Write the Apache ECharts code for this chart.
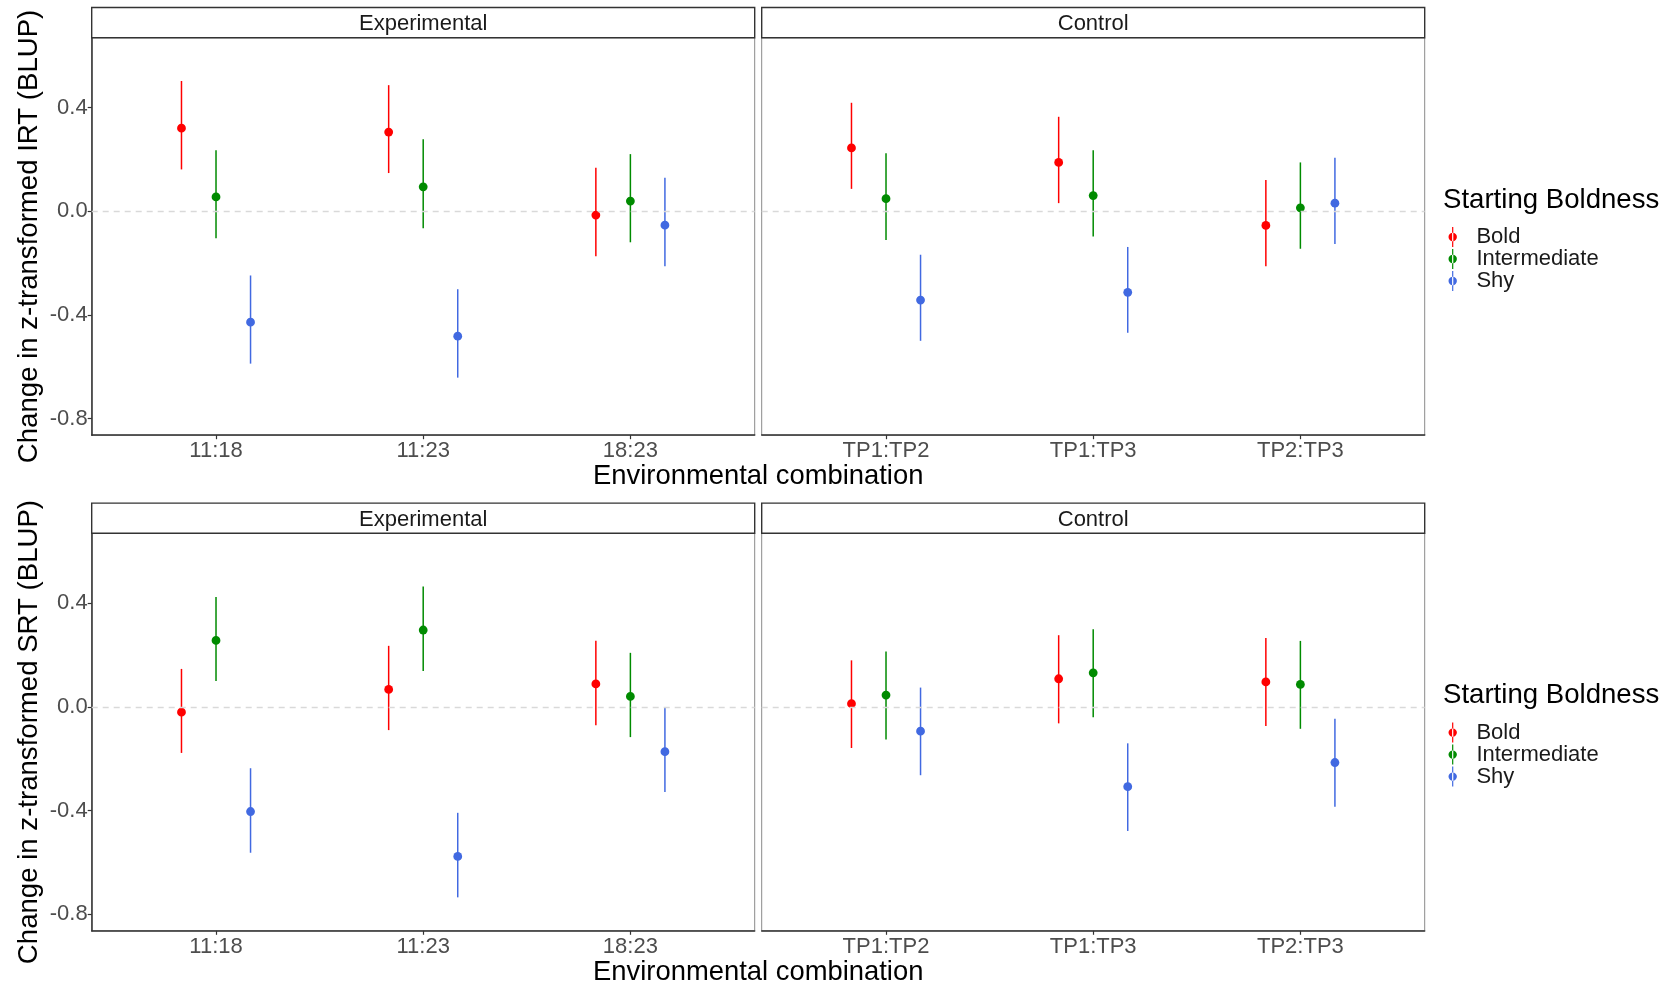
<!DOCTYPE html>
<html>
<head>
<meta charset="utf-8">
<script src="https://cdn.jsdelivr.net/npm/echarts@6/dist/echarts.min.js"></script>
<style>
html,body{margin:0;padding:0;background:#fff;}
#chart{width:1670px;height:986px;}
</style>
</head>
<body>
<div id="chart"></div>
<script>
// ---------------- DATA ----------------
const groups = ['Bold', 'Intermediate', 'Shy'];
const expCats = ['11:18', '11:23', '18:23'];
const ctrlCats = ['TP1:TP2', 'TP1:TP3', 'TP2:TP3'];
const panelNames = ['Experimental', 'Control'];
const yTicks = [-0.8, -0.4, 0.0, 0.4];
const rowTitles = ['Change in z-transformed IRT (BLUP)', 'Change in z-transformed SRT (BLUP)'];

// rows = groups (Bold, Intermediate, Shy), columns = categories
const irtExpEst = [[0.320, 0.305, -0.015], [0.055, 0.094, 0.039], [-0.428, -0.482, -0.054]];
const irtExpLo  = [[0.161, 0.147, -0.174], [-0.104, -0.066, -0.120], [-0.588, -0.642, -0.212]];
const irtExpHi  = [[0.502, 0.486, 0.167], [0.235, 0.277, 0.220], [-0.248, -0.301, 0.129]];

const irtCtlEst = [[0.244, 0.188, -0.055], [0.048, 0.060, 0.013], [-0.343, -0.313, 0.031]];
const irtCtlLo  = [[0.086, 0.031, -0.212], [-0.111, -0.098, -0.145], [-0.500, -0.469, -0.127]];
const irtCtlHi  = [[0.418, 0.364, 0.120], [0.223, 0.235, 0.188], [-0.168, -0.138, 0.206]];

const srtExpEst = [[-0.021, 0.067, 0.088], [0.256, 0.296, 0.040], [-0.404, -0.577, -0.173]];
const srtExpLo  = [[-0.178, -0.090, -0.071], [0.099, 0.138, -0.117], [-0.563, -0.735, -0.329]];
const srtExpHi  = [[0.146, 0.235, 0.255], [0.423, 0.464, 0.208], [-0.237, -0.409, -0.005]];

const srtCtlEst = [[0.012, 0.108, 0.096], [0.045, 0.131, 0.086], [-0.094, -0.308, -0.215]];
const srtCtlLo  = [[-0.159, -0.064, -0.074], [-0.126, -0.040, -0.085], [-0.264, -0.479, -0.386]];
const srtCtlHi  = [[0.179, 0.276, 0.265], [0.213, 0.299, 0.254], [0.074, -0.141, -0.046]];

// ---------------- STYLE / LAYOUT ----------------
const colors = ['#FF0000', '#008B00', '#4169E1'];
const FONT = 'Liberation Sans, Arial, sans-serif';
const dodge = [-1/6, 0, 1/6];
const panelLeft = [91.7, 761.7];
const panelW = 663;
const rowTop = [37.7, 533.3];
const panelH = 397.5;
const stripH = 30.2;
const yMin = -0.864, yMax = 0.669;
const rowOffset = rowTop[1] - rowTop[0];

const panels = [
  {row: 0, col: 0, cats: expCats, est: irtExpEst, lo: irtExpLo, hi: irtExpHi},
  {row: 0, col: 1, cats: ctrlCats, est: irtCtlEst, lo: irtCtlLo, hi: irtCtlHi},
  {row: 1, col: 0, cats: expCats, est: srtExpEst, lo: srtExpLo, hi: srtExpHi},
  {row: 1, col: 1, cats: ctrlCats, est: srtCtlEst, lo: srtCtlLo, hi: srtCtlHi}
];

function renderItem(params, api) {
  const x = api.value(0), y = api.value(1), lo = api.value(2), hi = api.value(3);
  const p = api.coord([x, y]);
  const a = api.coord([x, lo]);
  const b = api.coord([x, hi]);
  const c = api.visual('color');
  return {
    type: 'group',
    children: [
      {type: 'line', shape: {x1: a[0], y1: a[1], x2: b[0], y2: b[1]}, style: {stroke: c, lineWidth: 1.5}},
      {type: 'circle', shape: {cx: p[0], cy: p[1], r: 4.4}, style: {fill: c}}
    ]
  };
}

const grids = [], xAxes = [], yAxes = [], series = [], graphics = [];

panels.forEach((pn, i) => {
  grids.push({
    left: panelLeft[pn.col], top: rowTop[pn.row], width: panelW, height: panelH,
    show: true, borderColor: '#8a8a8a', borderWidth: 1, backgroundColor: '#fff',
    containLabel: false
  });
  const cats = pn.cats;
  xAxes.push({
    type: 'value', gridIndex: i, min: 0.4, max: 3.6,
    axisLine: {show: true, onZero: false, lineStyle: {color: '#333', width: 1.5}},
    axisTick: {show: true, customValues: [1, 2, 3], length: 4, lineStyle: {color: '#333', width: 1.2}},
    axisLabel: {
      show: true, customValues: [1, 2, 3], margin: 5,
      formatter: v => cats[Math.round(v) - 1],
      fontFamily: FONT, fontSize: 22, color: '#4d4d4d'
    },
    splitLine: {show: false}
  });
  const leftCol = pn.col === 0;
  yAxes.push({
    type: 'value', gridIndex: i, min: yMin, max: yMax,
    axisLine: {show: leftCol, onZero: false, lineStyle: {color: '#333', width: 1.5}},
    axisTick: {show: leftCol, customValues: yTicks, length: 4, lineStyle: {color: '#333', width: 1.2}},
    axisLabel: {
      show: leftCol, customValues: yTicks, margin: 4,
      formatter: v => v.toFixed(1),
      fontFamily: FONT, fontSize: 22, color: '#4d4d4d'
    },
    splitLine: {show: false}
  });
  // zero reference line
  series.push({
    type: 'line', name: 'zero' + i, xAxisIndex: i, yAxisIndex: i, data: [], silent: true, z: 1,
    markLine: {
      silent: true, symbol: 'none', label: {show: false}, animation: false,
      lineStyle: {type: [6, 5], color: '#d9d9d9', width: 1.3},
      emphasis: {disabled: true},
      data: [{yAxis: 0}]
    }
  });
  groups.forEach((g, gi) => {
    series.push({
      type: 'custom', name: g, xAxisIndex: i, yAxisIndex: i, z: 3,
      itemStyle: {color: colors[gi]},
      renderItem: renderItem,
      encode: {x: 0, y: [1, 2, 3]},
      data: cats.map((c, ci) => [ci + 1 + dodge[gi], pn.est[gi][ci], pn.lo[gi][ci], pn.hi[gi][ci]]),
      animation: false
    });
  });
  // facet strip
  graphics.push({
    type: 'rect', z: 10,
    shape: {x: panelLeft[pn.col], y: rowTop[pn.row] - stripH, width: panelW, height: stripH},
    style: {fill: '#fff', stroke: '#333', lineWidth: 1.4}
  });
  graphics.push({
    type: 'text', z: 11,
    x: panelLeft[pn.col] + panelW / 2, y: rowTop[pn.row] - stripH / 2 + 1.5,
    style: {text: panelNames[pn.col], font: '22px ' + FONT, fill: '#1a1a1a', textAlign: 'center', textVerticalAlign: 'middle'}
  });
});

[0, 1].forEach(r => {
  // y-axis title
  graphics.push({
    type: 'text', z: 11, rotation: Math.PI / 2,
    x: 29, y: rowTop[r] + panelH / 2,
    style: {text: rowTitles[r], font: '27.6px ' + FONT, fill: '#000', textAlign: 'center', textVerticalAlign: 'middle'}
  });
  // x-axis title
  graphics.push({
    type: 'text', z: 11,
    x: (panelLeft[0] + panelLeft[1] + panelW) / 2, y: rowTop[r] + panelH + 41.5,
    style: {text: 'Environmental combination', font: '27.4px ' + FONT, fill: '#000', textAlign: 'center', textVerticalAlign: 'middle'}
  });
  // legend title
  graphics.push({
    type: 'text', z: 11,
    x: 1443, y: 200 + r * rowOffset,
    style: {text: 'Starting Boldness', font: '27.6px ' + FONT, fill: '#000', textAlign: 'left', textVerticalAlign: 'middle'}
  });
});

const ICON = 'path://M3.4,0h1.2v20h-1.2z M4,5.8a4.2,4.2 0 1 0 0.001 0z';
const legends = [0, 1].map(r => ({
  data: groups, orient: 'vertical', left: 1448.5, top: 226 + r * rowOffset,
  padding: 0, itemGap: 0, itemWidth: 8.4, itemHeight: 20, icon: ICON,
  selectedMode: false,
  textStyle: {fontFamily: FONT, fontSize: 22, color: '#1a1a1a', lineHeight: 22, padding: [0, 0, 0, 14.5]}
}));

const chart = echarts.init(document.getElementById('chart'), null, {renderer: 'canvas'});
chart.setOption({
  backgroundColor: '#fff',
  animation: false,
  grid: grids,
  xAxis: xAxes,
  yAxis: yAxes,
  legend: legends,
  series: series,
  graphic: graphics
});
</script>
</body>
</html>
